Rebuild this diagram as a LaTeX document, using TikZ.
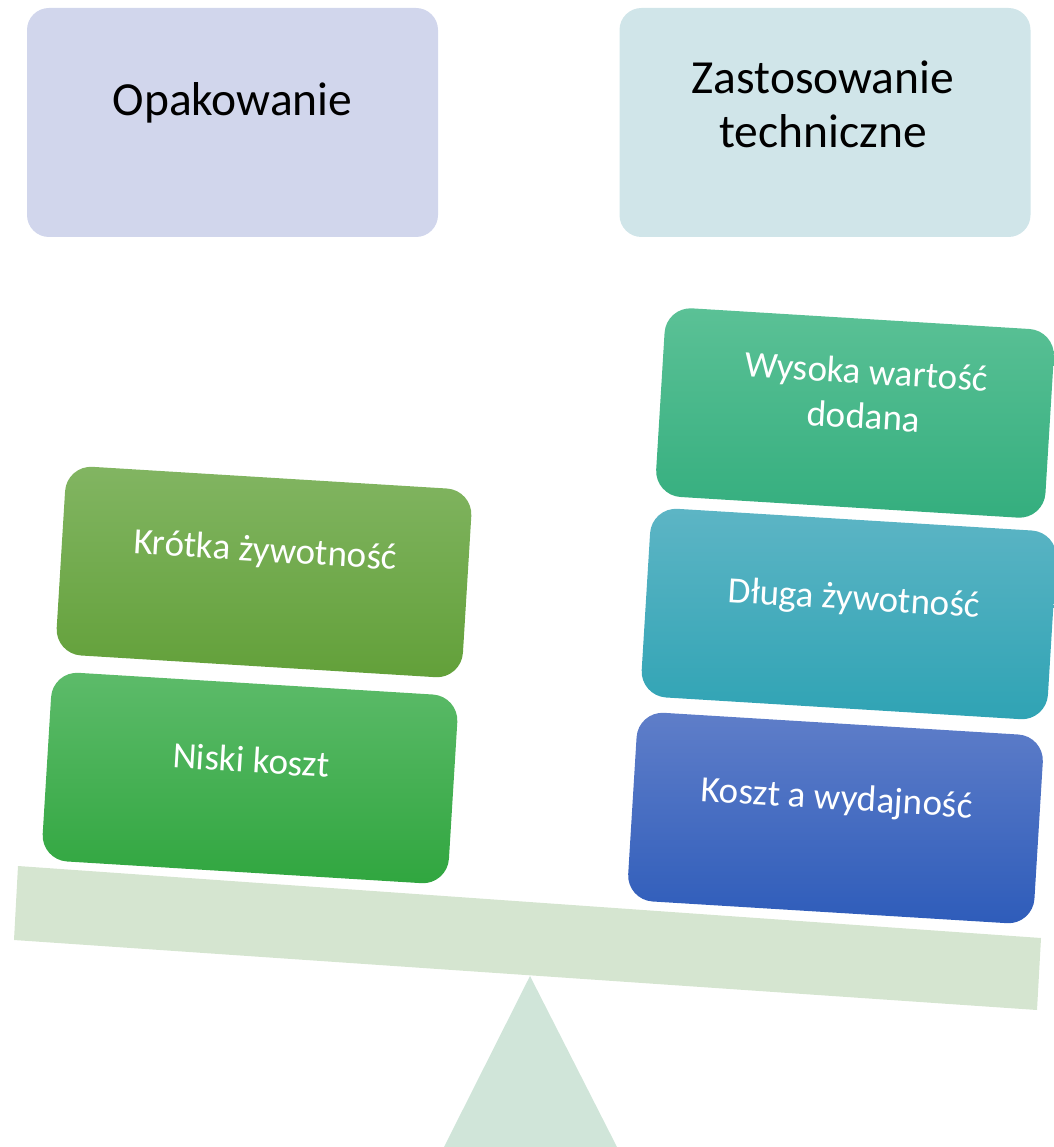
\documentclass[tikz,border=0pt]{standalone}
\usepackage{fontspec}
\setmainfont{Carlito}
\definecolor{cOpak}{HTML}{D1D6EC}
\definecolor{cZast}{HTML}{D0E5E9}
\definecolor{cBeam}{HTML}{D5E5D0}
\definecolor{cTri}{HTML}{D0E5D9}
\definecolor{cKrT}{HTML}{82B562}
\definecolor{cKrB}{HTML}{62A039}
\definecolor{cNiT}{HTML}{5DBB6A}
\definecolor{cNiB}{HTML}{30A63F}
\definecolor{cWyT}{HTML}{5BC196}
\definecolor{cWyB}{HTML}{34AE7E}
\definecolor{cDlT}{HTML}{5DB5C5}
\definecolor{cDlB}{HTML}{2FA3B4}
\definecolor{cKoT}{HTML}{5F7EC9}
\definecolor{cKoB}{HTML}{2E5CBA}
\begin{document}
\begin{tikzpicture}[x=1pt,y=1pt,
  topbox/.style={rounded corners=22pt, minimum width=411pt, minimum height=229pt, inner sep=0pt},
  innerbox/.style={rounded corners=26pt, minimum width=407pt, minimum height=189pt, inner sep=0pt},
  toptext/.style={font=\fontsize{47.5}{54}\selectfont, align=center, text=black, inner sep=0pt},
  innertext/.style={font=\fontsize{37}{45}\selectfont, align=center, text=white, inner sep=0pt},
]
\useasboundingbox (0,0) rectangle (1053,-1147);

% top category boxes
\node[topbox, fill=cOpak] (opak) at (232.5,-122.5) {};
\node[toptext] (opakT) at (232.5,-103) {Opakowanie};
\node[topbox, fill=cZast] (zast) at (825,-122.5) {};
\node[toptext] (zastT) at (823,-104) {Zastosowanie\\techniczne};

% balance beam and fulcrum
\fill[cTri] (530,-976) -- (617,-1147) -- (444,-1147) -- cycle;
\fill[cBeam] (18,-866) -- (1041,-938) -- (1037,-1010) -- (14,-940) -- cycle;

% left stack
\begin{scope}[shift={(264,-572)}, rotate=-3.5, transform shape]
  \node[innerbox, top color=cKrT, bottom color=cKrB] (krotka) at (0,0) {};
  \node[innertext] (krotkaT) at (0,20) {Krótka żywotność};
\end{scope}
\begin{scope}[shift={(250,-778)}, rotate=-3.5, transform shape]
  \node[innerbox, top color=cNiT, bottom color=cNiB] (niski) at (0,0) {};
  \node[innertext] (niskiT) at (0,18) {Niski koszt};
\end{scope}

% right stack
\begin{scope}[shift={(855,-413)}, rotate=-3.5, transform shape]
  \node[innerbox, minimum width=390pt, top color=cWyT, bottom color=cWyB] (wysoka) at (0,0) {};
  \node[innertext] (wysokaT) at (9,20) {Wysoka wartość\\dodana};
\end{scope}
\begin{scope}[shift={(849,-614)}, rotate=-3.5, transform shape]
  \node[innerbox, top color=cDlT, bottom color=cDlB] (dluga) at (0,0) {};
  \node[innertext] (dlugaT) at (4,14) {Długa żywotność};
\end{scope}
\begin{scope}[shift={(835.5,-818)}, rotate=-3.5, transform shape]
  \node[innerbox, top color=cKoT, bottom color=cKoB] (koszt) at (0,0) {};
  \node[innertext] (kosztT) at (0,18) {Koszt a wydajność};
\end{scope}
\end{tikzpicture}
\end{document}
